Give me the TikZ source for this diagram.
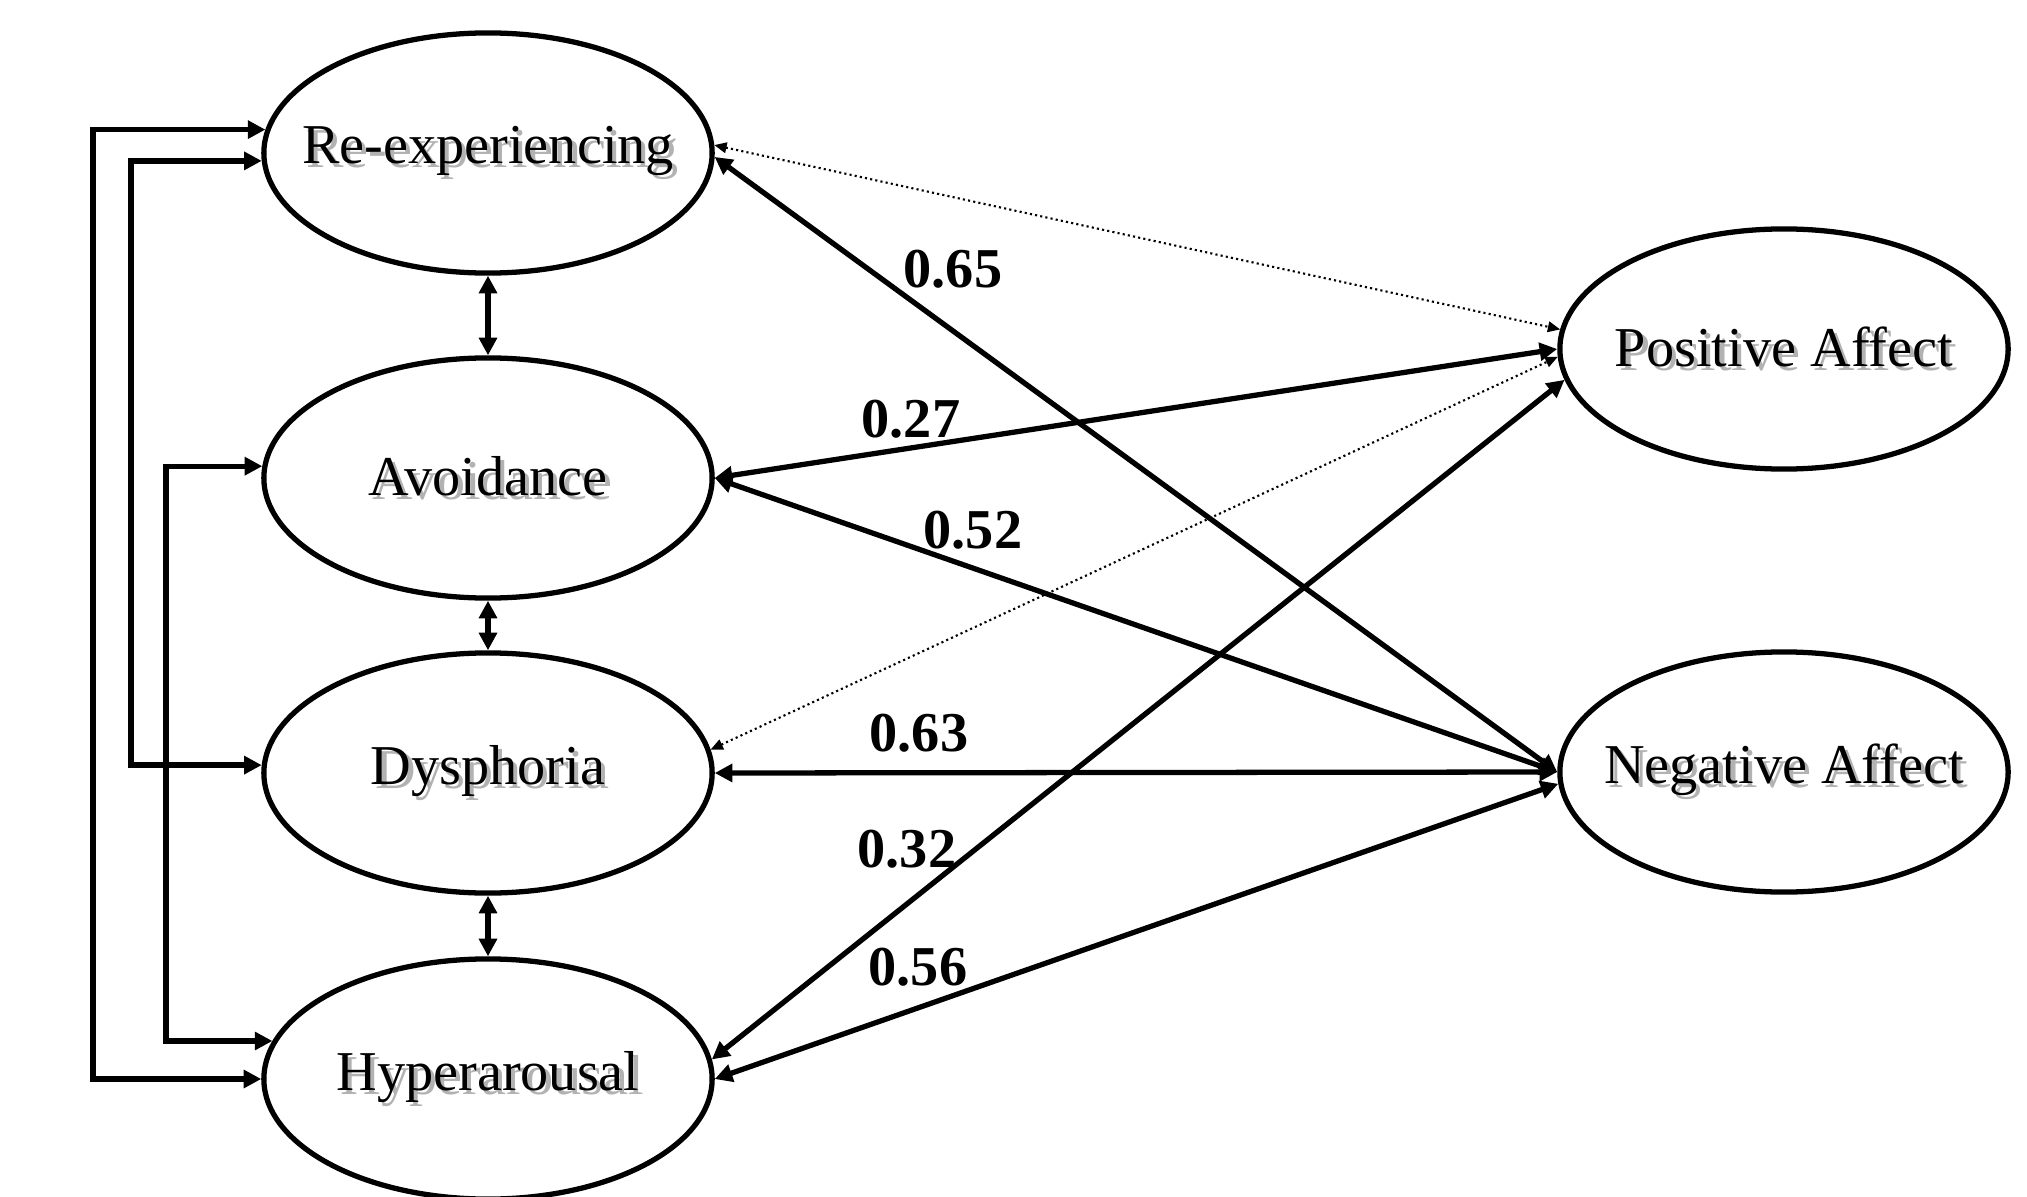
\documentclass[tikz,border=0pt]{standalone}
\usepackage{fontspec}
\setmainfont{Liberation Serif}
\usetikzlibrary{arrows.meta,shapes.geometric}
\newcommand{\shtxt}[1]{\makebox[0pt]{\makebox[0pt][l]{\hspace{1.2pt}\raisebox{-1.2pt}{\textcolor{black!30}{#1}}}#1}}

\begin{document}
\begin{tikzpicture}[x=0.01cm,y=-0.01cm,
  factor/.style={ellipse,draw,line width=1.5pt,minimum width=4.48cm,minimum height=2.4cm,inner sep=0pt,font=\fontsize{16}{19}\selectfont},
  link/.style={line width=1.5pt,{Triangle[length=5pt,width=5pt]}-{Triangle[length=5pt,width=5pt]}},
  weak/.style={line width=0.6pt,dash pattern=on 0.6pt off 0.9pt,{Triangle[length=3.5pt,width=3pt]}-{Triangle[length=3.5pt,width=3pt]}},
  coef/.style={font=\bfseries\fontsize{16}{19}\selectfont}]

\useasboundingbox (0,0) rectangle (2027,1197);

% PTSD factors
\node[factor] (re) at (488,153) {\shtxt{Re-experiencing}};
\node[factor] (av) at (488,478) {\shtxt{Avoidance}};
\node[factor] (dy) at (488,773) {\shtxt{Dysphoria}};
\node[factor] (hy) at (488,1079) {\shtxt{Hyperarousal}};

% affect factors
\node[factor] (pa) at (1784,349) {\shtxt{Positive Affect}};
\node[factor] (na) at (1784,772) {\shtxt{Negative Affect}};

% covariances on the left
\coordinate (o1) at (93,600);
\coordinate (o2) at (131,460);
\coordinate (o3) at (166,760);
\draw[link] (re.174) -| (o1) |- (hy.west);
\draw[link] (re.182) -| (o2) |- (dy.178);
\draw[link] (av.177) -| (o3) |- (hy.170);

\draw[link] (re) -- (av);
\draw[link] (av) -- (dy);
\draw[link] (dy) -- (hy);

% correlations with affect
\draw[weak] (re.2) -- (pa.175);
\draw[link] (re.359) -- (na.west);
\draw[link] (av.east) -- (pa.west);
\draw[link] (av.east) -- (na.west);
\draw[weak] (dy.6) -- (pa.182);
\draw[link] (dy.east) -- (na.west);
\draw[link] (hy.5) -- (pa.188);
\draw[link] (hy.east) -- (na.183);

\node[coef] (c65) at (953,269) {0.65};
\node[coef] (c27) at (911,419) {0.27};
\node[coef] (c52) at (973,530) {0.52};
\node[coef] (c63) at (919,733) {0.63};
\node[coef] (c32) at (907,849) {0.32};
\node[coef] (c56) at (918,967) {0.56};

\end{tikzpicture}
\end{document}
